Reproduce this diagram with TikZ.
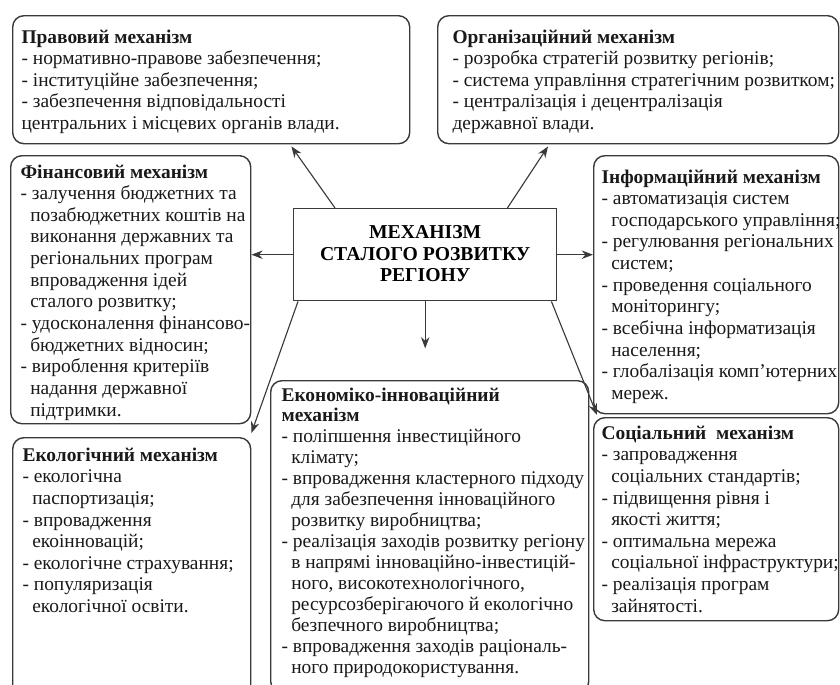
\documentclass[tikz,border=0pt]{standalone}
\usepackage{fontspec}
\setmainfont{Liberation Serif}
\usetikzlibrary{arrows.meta,calc}
\definecolor{linegray}{HTML}{3A3A3A}
\newlength{\pxl}
\setlength{\pxl}{0.025cm}
\newcommand{\ind}{\hspace*{0.5em}}

\tikzset{
  mbox/.style={draw=linegray, line width=1pt, rounded corners=8pt, anchor=north west, inner sep=0pt},
  mtext/.style={anchor=north west, align=left, inner sep=0pt, text=black!90, font=\fontsize{13.8}{15.4}\selectfont},
  centbox/.style={draw=linegray, line width=1pt, anchor=north west, inner sep=0pt},
}

\begin{document}
\begin{tikzpicture}[x=0.025cm, y=-0.025cm, >={Stealth[length=8pt,width=6pt]}, line width=0.8pt]
    \useasboundingbox[fill=white] (0,0) rectangle (840,684);

    % Boxes
    \node[mbox, minimum width=397*\pxl, minimum height=128*\pxl] (prav) at (12,15) {};
    \node[mbox, minimum width=401*\pxl, minimum height=128*\pxl] (org) at (437,15) {};
    \node[mbox, minimum width=240*\pxl, minimum height=268*\pxl] (fin) at (10,155) {};
    \node[mbox, minimum width=245*\pxl, minimum height=258*\pxl] (inf) at (593,155) {};
    \node[mbox, minimum width=238*\pxl, minimum height=260*\pxl] (eco) at (12,437) {};
    \node[mbox, minimum width=318*\pxl, minimum height=312*\pxl] (econ) at (270,380) {};
    \node[mbox, minimum width=245*\pxl, minimum height=203*\pxl] (soc) at (593,417) {};
    \node[centbox, minimum width=263*\pxl, minimum height=92*\pxl] (centr) at (293,208) {};

    % Texts
    \node[align=center, inner sep=0pt, font=\fontsize{14}{15.3}\selectfont\bfseries] (centrt) at ($(centr.center)+(0,-1)$)
        {МЕХАНІЗМ\\СТАЛОГО РОЗВИТКУ\\РЕГІОНУ};
    \node[mtext] (pravt) at ($(prav.north west)+(9,14)$) {\textbf{Правовий механізм}\\
        - нормативно-правове забезпечення;\\
        - інституційне забезпечення;\\
        - забезпечення відповідальності\\
        центральних і місцевих органів влади.};
    \node[mtext] (orgt) at ($(org.north west)+(15,14)$) {\textbf{Організаційний механізм}\\
        - розробка стратегій розвитку регіонів;\\
        - система управління стратегічним розвитком;\\
        - централізація і децентралізація\\
        державної влади.};
    \node[mtext] (fint) at ($(fin.north west)+(10,9)$) {\textbf{Фінансовий механізм}\\
        - залучення бюджетних та\\
        \ind позабюджетних коштів на\\
        \ind виконання державних та\\
        \ind регіональних програм\\
        \ind впровадження ідей\\
        \ind сталого розвитку;\\
        - удосконалення фінансово-\\
        \ind бюджетних відносин;\\
        - вироблення критеріїв\\
        \ind надання державної\\
        \ind підтримки.};
    \node[mtext] (inft) at ($(inf.north west)+(8,14)$) {\textbf{Інформаційний механізм}\\
        - автоматизація систем\\
        \ind господарського управління;\\
        - регулювання регіональних\\
        \ind систем;\\
        - проведення соціального\\
        \ind моніторингу;\\
        - всебічна інформатизація\\
        \ind населення;\\
        - глобалізація комп’ютерних\\
        \ind мереж.};
    \node[mtext] (ecot) at ($(eco.north west)+(10,10)$) {\textbf{Екологічний механізм}\\
        - екологічна\\
        \ind паспортизація;\\
        - впровадження\\
        \ind екоінновацій;\\
        - екологічне страхування;\\
        - популяризація\\
        \ind екологічної освіти.};
    \node[mtext, font=\fontsize{13.8}{14.9}\selectfont] (econt) at ($(econ.north west)+(11,7)$) {\textbf{Економіко-інноваційний}\\
        \textbf{механізм}\\
        - поліпшення інвестиційного\\
        \ind клімату;\\
        - впровадження кластерного підходу\\
        \ind для забезпечення інноваційного\\
        \ind розвитку виробництва;\\
        - реалізація заходів розвитку регіону\\
        \ind в напрямі інноваційно-інвестицій-\\
        \ind ного, високотехнологічного,\\
        \ind ресурсозберігаючого й екологічно\\
        \ind безпечного виробництва;\\
        - впровадження заходів раціональ-\\
        \ind ного природокористування.};
    \node[mtext] (soct) at ($(soc.north west)+(8,8)$) {\textbf{Соціальний\ \ механізм}\\
        - запровадження\\
        \ind соціальних стандартів;\\
        - підвищення рівня і\\
        \ind якості життя;\\
        - оптимальна мережа\\
        \ind соціальної інфраструктури;\\
        - реалізація програм\\
        \ind зайнятості.};

    % Arrows
    \coordinate (econtip) at ($(centr.south)+(0,47)$);
    \draw[->, linegray] ($(centr.north west)+(42,0)$) -- ($(prav.south east)+(-119,2)$);
    \draw[->, linegray] ($(centr.north east)+(-50,0)$) -- ($(org.south west)+(111,2)$);
    \draw[->, linegray] (centr.west) -- (centr.west -| fin.east);
    \draw[->, linegray] (centr.east) -- (centr.east -| inf.west);
    \draw[->, linegray] (centr.south) -- (econtip);
    \draw[->, linegray] ($(centr.south west)+(5,0)$) -- ($(eco.north east)+(0,-4)$);
    \draw[->, linegray] ($(centr.south east)+(-6,0)$) -- ($(soc.north west)+(4,-2)$);

\end{tikzpicture}
\end{document}
